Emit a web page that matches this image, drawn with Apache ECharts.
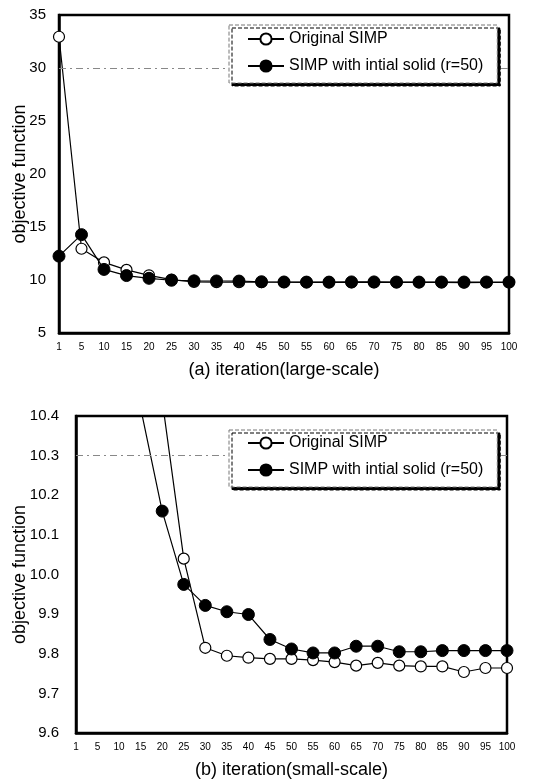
<!DOCTYPE html>
<html>
<head>
<meta charset="utf-8">
<script src="https://cdn.jsdelivr.net/npm/echarts@6/dist/echarts.min.js"></script>
<style>html,body{margin:0;padding:0;background:#fff}#c{width:552px;height:780px}</style>
</head>
<body>
<div id="c"></div>
<script>
// Iteration categories (x-axis tick labels)
var iterations = ['1','5','10','15','20','25','30','35','40','45','50','55','60','65','70','75','80','85','90','95','100'];
// Original SIMP objective values
var originalSIMP = [32.95, 12.95, 11.66, 10.95, 10.44, 10.04, 9.815, 9.795, 9.79, 9.787, 9.787, 9.784, 9.779, 9.77, 9.777, 9.77, 9.768, 9.768, 9.754, 9.764, 9.764];
// SIMP with initial solid (r=50)
var solidSIMP = [12.25, 14.28, 11.0, 10.42, 10.16, 9.975, 9.922, 9.906, 9.899, 9.836, 9.812, 9.802, 9.802, 9.819, 9.819, 9.805, 9.805, 9.808, 9.808, 9.808, 9.808];
var seriesNames = ['Original SIMP', 'SIMP with intial solid (r=50)'];
var refLines = [30, 10.3];
var yLabelsTop = [5, 35, 5];      // min, max, interval
var yLabelsBottom = [9.6, 10.4, 0.1];

var FONT = 'Arial, "Liberation Sans", sans-serif';
var chart = echarts.init(document.getElementById('c'));

function mkLegend(top, padTop) {
  return {
    data: seriesNames,
    orient: 'vertical',
    left: 229, top: top, z: 20,
    itemWidth: 36, itemHeight: 14, itemGap: 11,
    padding: [padTop, 14, 9, 18],
    backgroundColor: '#fff',
    borderColor: '#777', borderWidth: 1, borderType: 'dashed',
    shadowColor: '#000', shadowOffsetX: 3, shadowOffsetY: 3, shadowBlur: 0.01,
    textStyle: {fontFamily: FONT, fontSize: 16, color: '#000'},
    selectedMode: false
  };
}

function mkSeries(idx) {
  var ml = {
    silent: true, symbol: 'none', label: {show: false},
    lineStyle: {color: '#888', width: 1, type: [7, 4, 2, 4]},
    data: [{yAxis: refLines[idx]}]
  };
  return [
    {
      name: seriesNames[0], type: 'line', xAxisIndex: idx, yAxisIndex: idx,
      data: originalSIMP, symbol: 'circle', symbolSize: 11,
      itemStyle: {color: '#fff', borderColor: '#000', borderWidth: 1.2},
      lineStyle: {color: '#000', width: 1.2}, z: 3,
      markLine: ml
    },
    {
      name: seriesNames[1], type: 'line', xAxisIndex: idx, yAxisIndex: idx,
      data: solidSIMP, symbol: 'circle', symbolSize: 12,
      itemStyle: {color: '#000', borderColor: '#000', borderWidth: 1},
      lineStyle: {color: '#000', width: 1.2}, z: 4
    }
  ];
}

function mkX(idx, name) {
  return {
    type: 'category', gridIndex: idx, data: iterations, boundaryGap: false,
    axisLine: {lineStyle: {color: '#000', width: 2.5}},
    axisTick: {show: false},
    axisLabel: {fontFamily: FONT, fontSize: 10, color: '#000', margin: 9, interval: 0},
    name: name, nameLocation: 'middle', nameGap: 28,
    nameTextStyle: {fontFamily: FONT, fontSize: 18, color: '#000'},
    splitLine: {show: false}
  };
}

function mkY(idx, rng, gap, margin, fmt) {
  return {
    type: 'value', gridIndex: idx, min: rng[0], max: rng[1], interval: rng[2],
    axisLine: {show: true, lineStyle: {color: '#000', width: 2.5}},
    axisTick: {show: false},
    axisLabel: {fontFamily: FONT, fontSize: 15, color: '#000', margin: margin, formatter: fmt},
    splitLine: {show: false},
    name: 'objective function', nameLocation: 'middle', nameGap: gap,
    nameMoveOverlap: false,
    nameTextStyle: {fontFamily: FONT, fontSize: 18, color: '#000'}
  };
}

chart.setOption({
  animation: false,
  backgroundColor: '#fff',
  grid: [
    {left: 59, right: 43, top: 15, bottom: 447, show: true, borderColor: '#000', borderWidth: 2.5, backgroundColor: 'transparent'},
    {left: 76, right: 45, top: 416, bottom: 47, show: true, borderColor: '#000', borderWidth: 2.5, backgroundColor: 'transparent'}
  ],
  legend: [mkLegend(25, 6), mkLegend(430, 5)],
  xAxis: [mkX(0, '(a) iteration(large-scale)'), mkX(1, '(b) iteration(small-scale)')],
  yAxis: [
    mkY(0, yLabelsTop, 30, 13, function (v) { return String(v); }),
    mkY(1, yLabelsBottom, 47, 17, function (v) { return v.toFixed(1); })
  ],
  series: mkSeries(0).concat(mkSeries(1))
});
</script>
</body>
</html>
